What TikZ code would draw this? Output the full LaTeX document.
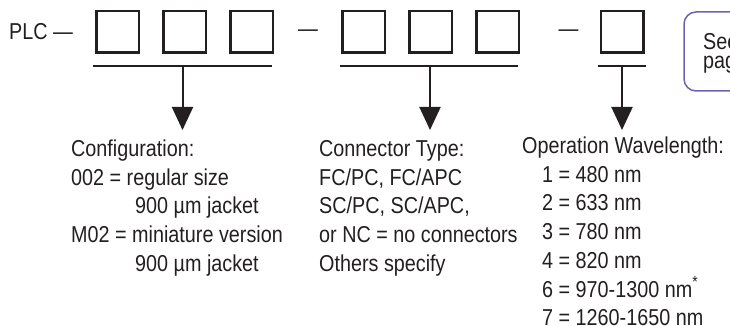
\documentclass[tikz,border=0pt]{standalone}
\usepackage{fontspec}
\setmainfont{Liberation Sans}[FakeStretch=0.86]
\usepackage{tikz}
\usetikzlibrary{positioning}
\usetikzlibrary{arrows.meta}
\definecolor{ink}{RGB}{35,31,32}
\definecolor{notepurple}{RGB}{112,98,178}
\tikzset{
  slot/.style = {rectangle, draw=ink, line width=2.5pt, inner sep=0pt,
    minimum width=42.5pt, minimum height=41.5pt},% one code character
  bar/.style = {draw=ink, line width=2.5pt},% line under a group
  pointer/.style = {draw=ink, line width=2pt,
    -{Triangle[width=21pt,length=23pt]}},
  codetxt/.style = {inner sep=0pt, text=ink,
    font=\fontsize{23}{28}\selectfont},
  legend/.style = {codetxt, align=left, anchor=base west,
    font=\fontsize{23}{28.7}\selectfont},% base = last line
  noteframe/.style = {draw=notepurple, line width=1.5pt, rounded corners=12pt}
}

\begin{document}
\begin{tikzpicture}[x=1pt,y=-1pt]
\clip (0,0) rectangle (730,326);

\node [codetxt, anchor=west] (plc) at (9,32) {PLC —};
\foreach \i/\x in {1/117.5,2/184.5,3/251.5}
  \node [slot] (a\i) at (\x,32) {};
\node [codetxt] (dash1) at (308,33) {—};
\foreach \i/\x in {1/363.5,2/430.5,3/497.5}
  \node [slot] (b\i) at (\x,32) {};
\node [codetxt] (dash2) at (568.5,33) {—};
\node [slot] (c1) at (622,32) {};

% note at the right edge
\draw [noteframe] (684,12) rectangle (800,91);
\node [codetxt, anchor=base west] (see) at (703,50) {See};
\node [codetxt, anchor=base west] (pag) at (703,68.5) {pag};

% group lines
\coordinate (ua-l) at (93,66);  \coordinate (ua-r) at (272,66);
\coordinate (ub-l) at (340,66); \coordinate (ub-r) at (518,66);
\coordinate (uc-l) at (598,66); \coordinate (uc-r) at (646,66);
\draw [bar] (ua-l) -- (ua-r);
\draw [bar] (ub-l) -- (ub-r);
\draw [bar] (uc-l) -- (uc-r);

\coordinate (ua) at (182.5,66); \coordinate (ta) at (182.5,130);
\coordinate (ub) at (430,66);   \coordinate (tb) at (430,130);
\coordinate (uc) at (622,66);   \coordinate (tc) at (622,130);
\draw [pointer] (ua) -- (ta);
\draw [pointer] (ub) -- (tb);
\draw [pointer] (uc) -- (tc);

\node [legend] (config) at (71,271.3) {Configuration:\\
  002 = regular size\\
  \hspace*{64pt}900 µm jacket\\
  M02 = miniature version\\
  \hspace*{64pt}900 µm jacket};
\node [legend] (conn) at (319,271.3) {Connector Type:\\
  FC/PC, FC/APC\\
  SC/PC, SC/APC,\\
  or NC = no connectors\\
  Others specify};
\node [legend] (wave) at (522,325.7) {Operation Wavelength:\\
  \hspace*{20pt}1 = 480 nm\\
  \hspace*{20pt}2 = 633 nm\\
  \hspace*{20pt}3 = 780 nm\\
  \hspace*{20pt}4 = 820 nm\\
  \hspace*{20pt}6 = 970-1300 nm\textsuperscript{*}\\
  \hspace*{20pt}7 = 1260-1650 nm};
\end{tikzpicture}
\end{document}
